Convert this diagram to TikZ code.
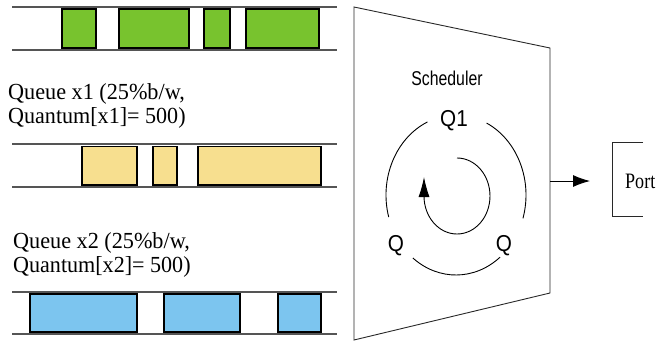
\documentclass[tikz,border=0pt]{standalone}
\usepackage{fontspec}
\usepackage{graphicx}
\setmainfont{Liberation Serif}
\setsansfont{Liberation Sans}
\usetikzlibrary{arrows.meta}

\definecolor{pktgreen}{RGB}{120,195,46}
\definecolor{pktyellow}{RGB}{247,223,143}
\definecolor{pktblue}{RGB}{124,197,239}
\definecolor{lanegray}{RGB}{85,85,85}
\definecolor{edgegray}{RGB}{40,40,40}

\newcommand{\hsq}[2]{\scalebox{#1}[1]{#2}}

\begin{document}
\begin{tikzpicture}[x=1pt,y=-1pt,
  lane/.style={draw=lanegray, line width=1.6pt},
  pkt/.style={draw=black, line width=1.1pt},
  qlabel/.style={anchor=base west, inner sep=0pt, font=\fontsize{23}{24}\selectfont},
  sflabel/.style={inner sep=0pt, font=\sffamily\fontsize{23}{24}\selectfont},
  thin line/.style={draw=edgegray, line width=0.9pt},
  bigarrow/.style={-{Latex[length=17pt,width=12pt]}, line width=0.9pt},
  turnarrow/.style={-{Latex[length=20pt,width=11pt]}, line width=0.9pt},
]
\useasboundingbox (0,0) rectangle (657,341);

% ---- queue lanes ----
\foreach \ya/\yb in {7/50, 144/187, 292/334}{
  \draw[lane] (12,\ya) -- (337,\ya);
  \draw[lane] (12,\yb) -- (337,\yb);
}
% lane 1 packets
\foreach \xa/\xb in {62/96, 119/189, 204/230, 246/319}
  \draw[pkt, fill=pktgreen] (\xa,9) rectangle (\xb,48);
% lane 2 packets
\foreach \xa/\xb in {82/137, 153/177, 198/321}
  \draw[pkt, fill=pktyellow] (\xa,146.5) rectangle (\xb,185);
% lane 3 packets
\foreach \xa/\xb in {30/137, 164/240, 278/321}
  \draw[pkt, fill=pktblue] (\xa,294) rectangle (\xb,332);

% ---- queue captions ----
\node[qlabel] (q1a) at (8,99)  {\hsq{0.965}{Queue x1 (25\%b/w,}};
\node[qlabel] (q1b) at (8,123) {\hsq{0.96}{Quantum[x1]= 500)}};
\node[qlabel] (q2a) at (13,248) {\hsq{0.965}{Queue x2 (25\%b/w,}};
\node[qlabel] (q2b) at (13,272) {\hsq{0.96}{Quantum[x2]= 500)}};

% ---- scheduler body ----
\coordinate (tl) at (354,7);
\coordinate (tr) at (550,48);
\coordinate (br) at (550,293);
\coordinate (bl) at (354,340);
\draw[thin line] (tl) -- (tr) -- (br) -- (bl) -- cycle;

\node[inner sep=0pt, font=\sffamily\fontsize{20}{22}\selectfont] (sched) at (447,78) {\hsq{0.79}{Scheduler}};

% round-robin labels
\node[sflabel] (qtop)   at (454,121) {\hsq{0.9}{Q1}};
\node[sflabel] (qleft)  at (396,246) {\hsq{0.9}{Q}};
\node[sflabel] (qright) at (504,246) {\hsq{0.9}{Q}};

% outer ring segments
\coordinate (ring) at (456,195);
\draw[line width=0.9pt] (ring) ++(246:70 and 80) arc[start angle=246, end angle=164, x radius=70, y radius=80];
\draw[line width=0.9pt] (ring) ++(-64:70 and 80) arc[start angle=-64, end angle=17, x radius=70, y radius=80];
\draw[line width=0.9pt] (ring) ++(128:70 and 80) arc[start angle=128, end angle=51, x radius=70, y radius=80];

% inner turning arrow
\coordinate (spin) at (457,196);
\coordinate (spintip) at (424,177);
\draw[turnarrow] (spin) ++(-90:33 and 38) arc[start angle=-90, end angle=180, x radius=33, y radius=38] -- (spintip);

% ---- output port ----
\coordinate (schedout) at (550,181);
\coordinate (portin) at (590,181);
\draw[bigarrow] (schedout) -- (portin);

\coordinate (ptl) at (612,142);
\coordinate (pbl) at (612,216);
\draw[thin line] (643,142) -- (ptl) -- (pbl) -- (643,216);
\node[inner sep=0pt, anchor=base west, font=\fontsize{22}{24}\selectfont] (port) at (625,188) {\hsq{0.82}{Port}};
\end{tikzpicture}
\end{document}
